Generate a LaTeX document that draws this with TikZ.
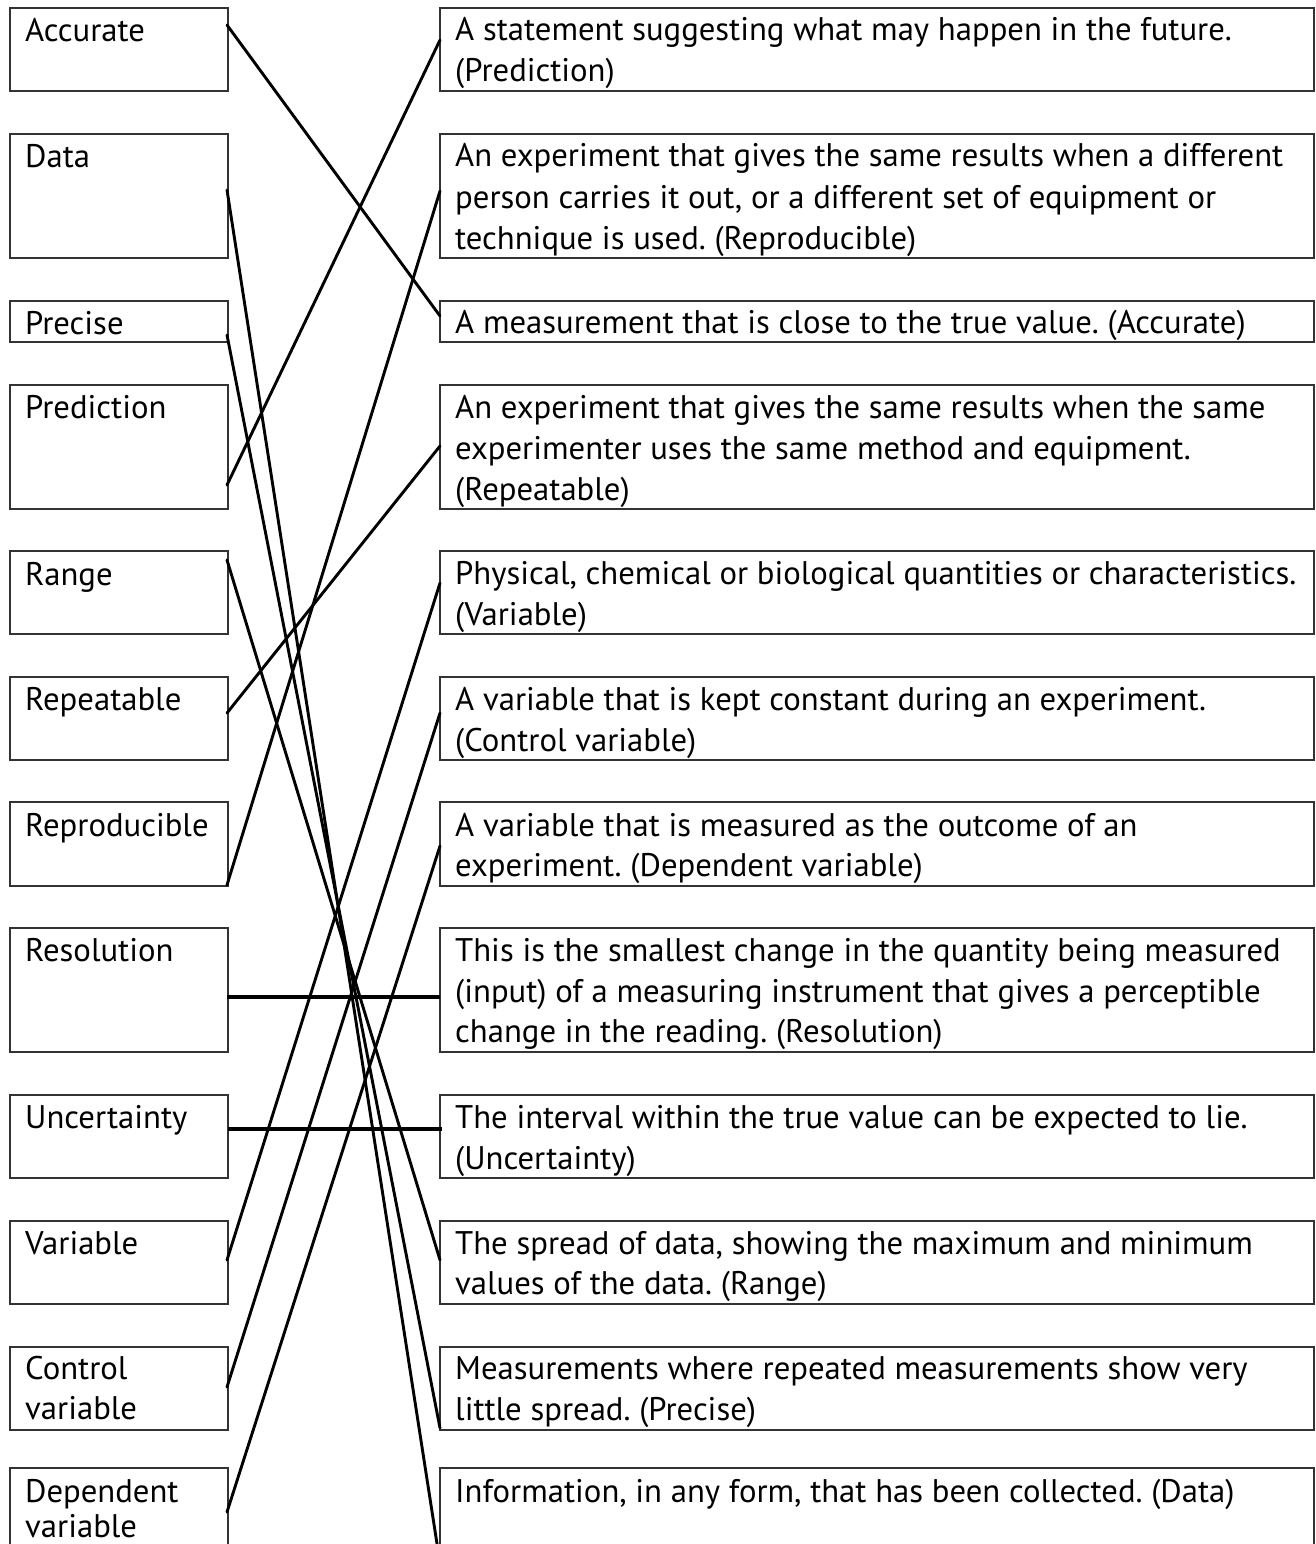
\documentclass[tikz,border=0pt]{standalone}
\usepackage{fontspec}
\setmainfont{PT Sans}
\frenchspacing
\newcommand\mybox[5]{\node[box,minimum width=#4pt,minimum height=#5pt] (#1) at (#2,#3) {};}
\newcommand\mytxt[4]{\node[txt] (#1) at (#2,#3) {#4};}
\begin{document}
\begin{tikzpicture}[x=1pt,y=-1pt,
  box/.style={draw=black!80, line width=1.5pt, inner sep=0pt, outer sep=0pt, anchor=north west},
  txt/.style={anchor=base west, inner sep=0pt, font=\fontsize{32.7}{38}\selectfont},
  link/.style={line width=2.9pt, line cap=round},
  hlink/.style={line width=3.6pt}]
\useasboundingbox[fill=white] (0,0) rectangle (1315,1544);
% left boxes
\mybox{L1}{10}{8}{218}{83}
\mybox{L2}{10}{134}{218}{124}
\mybox{L3}{10}{301}{218}{41}
\mybox{L4}{10}{385}{218}{124}
\mybox{L5}{10}{551}{218}{83}
\mybox{L6}{10}{677}{218}{83}
\mybox{L7}{10}{802}{218}{84}
\mybox{L8}{10}{928}{218}{124}
\mybox{L9}{10}{1095}{218}{83}
\mybox{L10}{10}{1221}{218}{83}
\mybox{L11}{10}{1347}{218}{83}
\mybox{L12}{10}{1468}{218}{124}
% right boxes
\mybox{R1}{440}{8}{874}{83}
\mybox{R2}{440}{134}{874}{124}
\mybox{R3}{440}{301}{874}{41}
\mybox{R4}{440}{385}{874}{124}
\mybox{R5}{440}{551}{874}{83}
\mybox{R6}{440}{677}{874}{83}
\mybox{R7}{440}{802}{874}{84}
\mybox{R8}{440}{928}{874}{124}
\mybox{R9}{440}{1095}{874}{83}
\mybox{R10}{440}{1221}{874}{83}
\mybox{R11}{440}{1347}{874}{83}
\mybox{R12}{440}{1468}{874}{124}
% left texts
\mytxt{tL1}{25}{42}{Accurate}
\mytxt{tL2}{25}{167}{Data}
\mytxt{tL3}{25}{334}{Precise}
\mytxt{tL4}{25}{418}{Prediction}
\mytxt{tL5}{25}{585}{Range}
\mytxt{tL6}{25}{710}{Repeatable}
\mytxt{tL7}{25}{836}{Reproducible}
\mytxt{tL8}{25}{961}{Resolution}
\mytxt{tL9}{25}{1128}{Uncertainty}
\mytxt{tL10}{25}{1254}{Variable}
\mytxt{tL11a}{25}{1379}{Control}
\mytxt{tL11b}{25}{1419}{variable}
\mytxt{tL12a}{25}{1502}{Dependent}
\mytxt{tL12b}{25}{1537}{variable}
% right texts
\mytxt{tR1a}{455}{41}{A statement suggesting what may happen in the future.}
\mytxt{tR1b}{455}{82}{(Prediction)}
\mytxt{tR2a}{455}{166}{An experiment that gives the same results when a different}
\mytxt{tR2b}{455}{208}{person carries it out, or a different set of equipment or}
\mytxt{tR2c}{455}{249}{technique is used. (Reproducible)}
\mytxt{tR3}{455}{333}{A measurement that is close to the true value. (Accurate)}
\mytxt{tR4a}{455}{418}{An experiment that gives the same results when the same}
\mytxt{tR4b}{455}{459}{experimenter uses the same method and equipment.}
\mytxt{tR4c}{455}{500}{(Repeatable)}
\mytxt{tR5a}{455}{584}{Physical, chemical or biological quantities or characteristics.}
\mytxt{tR5b}{455}{625}{(Variable)}
\mytxt{tR6a}{455}{710}{A variable that is kept constant during an experiment.}
\mytxt{tR6b}{455}{751}{(Control variable)}
\mytxt{tR7a}{455}{836}{A variable that is measured as the outcome of an}
\mytxt{tR7b}{455}{876}{experiment. (Dependent variable)}
\mytxt{tR8a}{455}{961}{This is the smallest change in the quantity being measured}
\mytxt{tR8b}{455}{1002}{(input) of a measuring instrument that gives a perceptible}
\mytxt{tR8c}{455}{1042}{change in the reading. (Resolution)}
\mytxt{tR9a}{455}{1128}{The interval within the true value can be expected to lie.}
\mytxt{tR9b}{455}{1169}{(Uncertainty)}
\mytxt{tR10a}{455}{1254}{The spread of data, showing the maximum and minimum}
\mytxt{tR10b}{455}{1294}{values of the data. (Range)}
\mytxt{tR11a}{455}{1379}{Measurements where repeated measurements show very}
\mytxt{tR11b}{455}{1420}{little spread. (Precise)}
\mytxt{tR12}{455}{1502}{Information, in any form, that has been collected. (Data)}
% connectors
\draw[link] ([shift={(-1,17)}]L1.north east) -- ([shift={(0,15)}]R3.north west);
\draw[link] ([shift={(-1,56)}]L2.north east) -- ([shift={(0,95)}]R12.north west);
\draw[link] ([shift={(-1,34)}]L3.north east) -- ([shift={(0,81)}]R11.north west);
\draw[link] ([shift={(-1,100)}]L4.north east) -- ([shift={(0,32)}]R1.north west);
\draw[link] ([shift={(-1,9)}]L5.north east) -- ([shift={(0,39)}]R10.north west);
\draw[link] ([shift={(-1,36)}]L6.north east) -- ([shift={(0,61)}]R4.north west);
\draw[link] ([shift={(-1,83)}]L7.north east) -- ([shift={(0,57)}]R2.north west);
\draw[hlink] ([shift={(-1,69)}]L8.north east) -- ([shift={(0,69)}]R8.north west);
\draw[hlink] ([shift={(0,34)}]L9.north east) -- ([shift={(2,34)}]R9.north west);
\draw[link] ([shift={(-1,39)}]L10.north east) -- ([shift={(0,32)}]R5.north west);
\draw[link] ([shift={(-1,40)}]L11.north east) -- ([shift={(0,36)}]R6.north west);
\draw[link] ([shift={(-1,44)}]L12.north east) -- ([shift={(0,44)}]R7.north west);
\end{tikzpicture}
\end{document}
